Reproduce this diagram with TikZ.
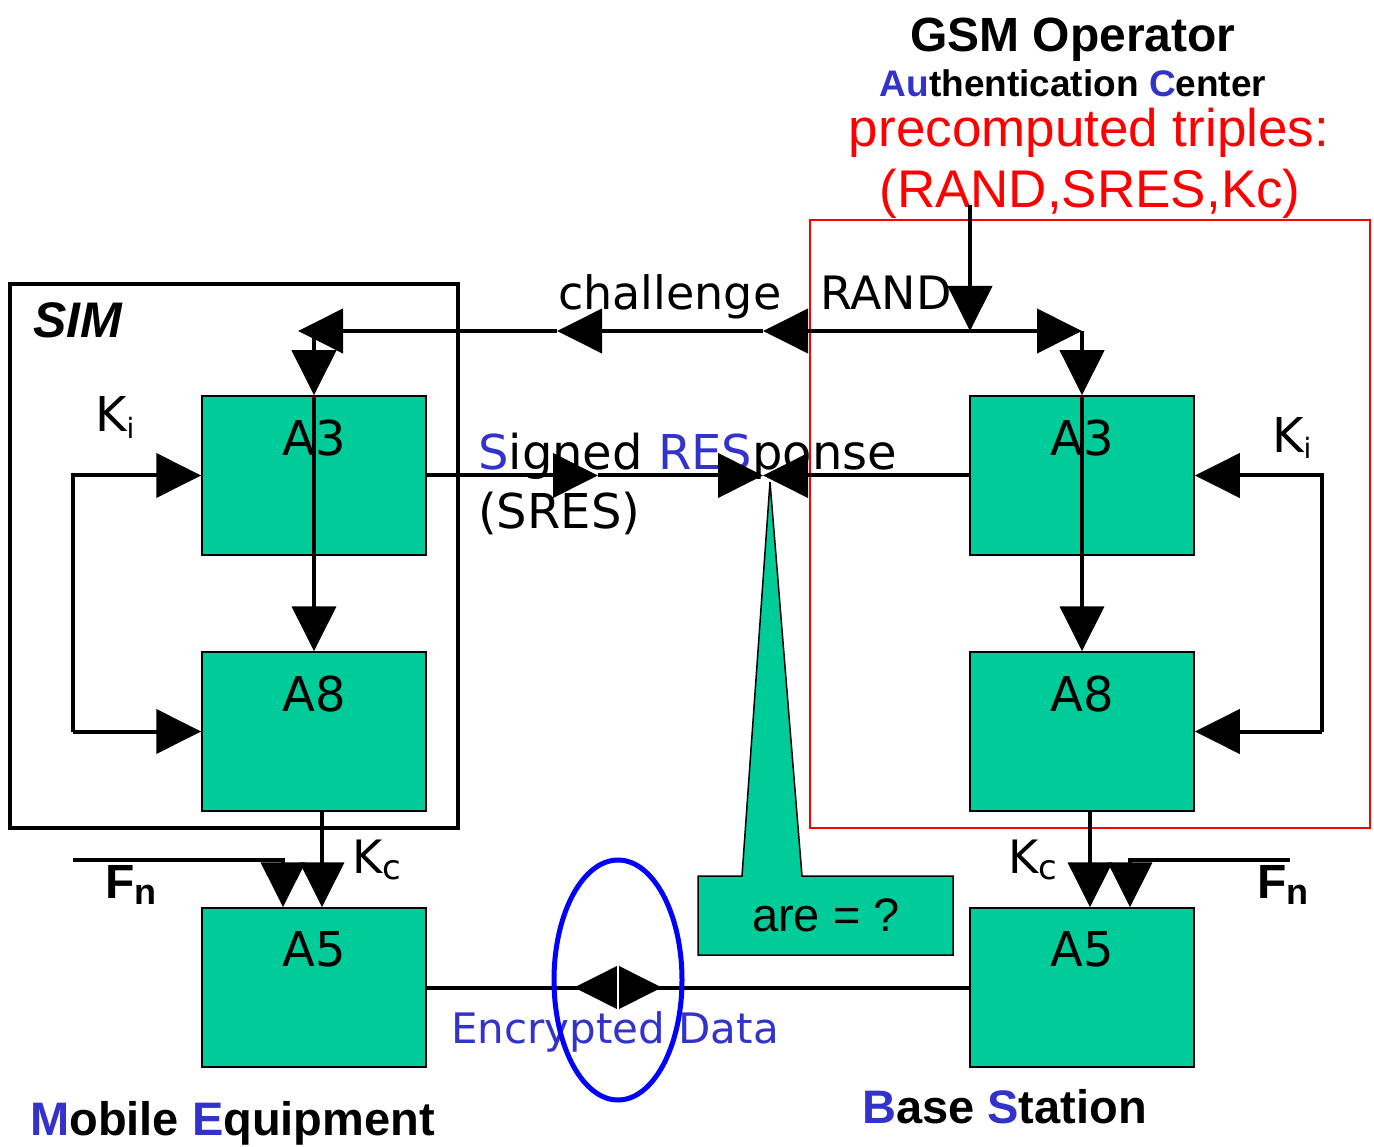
\documentclass[tikz,border=0pt]{standalone}
\usepackage{fontspec}
\setmainfont{DejaVu Sans}
\newfontfamily\arial{Liberation Sans}
\usetikzlibrary{arrows.meta,positioning}
\definecolor{algo}{HTML}{00CC99}
\definecolor{hilite}{HTML}{3333CC}
\newcommand{\fs}[1]{\fontsize{#1}{#1}\selectfont}
\newcommand{\dn}[2]{\raisebox{-6pt}{\fs{#1}#2}}

\begin{document}
\begin{tikzpicture}[x=1pt,y=-1pt,
    algbox/.style={draw,line width=1.5pt,fill=algo,minimum width=224pt,minimum height=159pt,inner sep=0pt},
    algtxt/.style={inner sep=0pt,font=\fs{48}},
    txt/.style={inner sep=0pt,anchor=base west},
    wire/.style={line width=4pt},
    arr/.style={wire,-{Triangle[length=45pt,width=44pt]}}]
    \useasboundingbox (0,0) rectangle (1374,1147);
    % SIM card and AuC frames
    \draw[line width=4pt] (10,284) rectangle (458,828);
    \draw[red,line width=1.5pt] (810,220) rectangle (1370,828);
    \foreach \n/\x/\y/\t in {lA3/314/475.5/A3,lA8/314/731.5/A8,lA5/314/987.5/A5,rA3/1082/475.5/A3,rA8/1082/731.5/A8,rA5/1082/987.5/A5} {
      \node[algbox] (\n) at (\x,\y) {};
      \node[algtxt,below=24pt of \n.north] (\n t) {\t};
    }
    \draw[fill=algo,line width=1.5pt] (698,876) -- (742,876) -- (770,482) -- (802,876) -- (953,876) -- (953,955) -- (698,955) -- cycle;
    \node[txt,anchor=base,font=\arial\fs{47}] (eq) at (826,931) {are = ?};
    % labels
    \node[txt,anchor=base,font=\arial\bfseries\fs{48}] (gsm) at (1073,52) {GSM Operator};
    \node[txt,anchor=base,font=\arial\bfseries\fs{37}] (auc) at (1073,97) {\textcolor{hilite}{Au}thentication \textcolor{hilite}{C}enter};
    \node[txt,anchor=base,red,font=\arial\fs{53}] (trip) at (1089,147) {precomputed triples:};
    \node[txt,anchor=base,red,font=\arial\fs{53}] (trip2) at (1090,208) {(RAND,SRES,Kc)};
    \node[txt,font=\fs{46}] (chal) at (558,310) {challenge};
    \node[txt,font=\fs{46}] (rand) at (820,310) {RAND};
    \node[txt,font=\arial\bfseries\itshape\fs{50}] (sim) at (33,338) {SIM};
    \node[txt,font=\fs{48}] (kil) at (95,432) {K\dn{28}{i}};
    \node[txt,font=\fs{48}] (kir) at (1272,453) {K\dn{28}{i}};
    \node[txt,font=\fs{48}] (sres) at (478,470) {\textcolor{hilite}{S}igned \textcolor{hilite}{RES}ponse};
    \node[txt,font=\fs{48}] (sres2) at (478,528) {(SRES)};
    \node[txt,font=\fs{46}] (kcl) at (352,873) {K\dn{34}{c}};
    \node[txt,font=\fs{46}] (kcr) at (1008,873) {K\dn{34}{c}};
    \node[txt,font=\arial\bfseries\fs{48}] (fnl) at (105,898) {F\dn{36}{n}};
    \node[txt,font=\arial\bfseries\fs{48}] (fnr) at (1257,898) {F\dn{36}{n}};
    \node[txt,anchor=base,text=hilite,font=\fs{42}] (enc) at (615,1043) {Encrypted Data};
    \node[txt,font=\arial\bfseries\fs{47}] (me) at (30,1135) {\textcolor{hilite}{M}obile \textcolor{hilite}{E}quipment};
    \node[txt,font=\arial\bfseries\fs{47}] (bs) at (862,1123) {\textcolor{hilite}{B}ase \textcolor{hilite}{S}tation};
    % challenge RAND
    \coordinate (src) at (970,205);
    \coordinate (j) at (970,331);
    \coordinate (tR) at (1082,331);
    \coordinate (c1) at (763,331);
    \coordinate (c2) at (557,331);
    \coordinate (c3) at (298,331);
    \coordinate (tL) at (314,331);
    \draw[arr] (src) -- (j);
    \draw[arr] (j) -- (tR);
    \draw[arr] (tR) -- (rA3.north);
    \draw[arr] (j) -- (c1);
    \draw[arr] (c1) -- (c2);
    \draw[arr] (c2) -- (c3);
    \draw[arr] (tL) -- (lA3.north);
    \draw[arr] (lA3.north) -- (lA8.north);
    \draw[arr] (rA3.north) -- (rA8.north);
    % response
    \coordinate (s1) at (598,475.5);
    \coordinate (meet) at (763,475.5);
    \draw[arr] (lA3.east) -- (s1);
    \draw[arr] (s1) -- (meet);
    \draw[arr] (rA3.west) -- (meet);
    % Ki
    \coordinate (kl1) at (73,475.5); \coordinate (kl2) at (73,731.5);
    \coordinate (kr1) at (1322,475.5); \coordinate (kr2) at (1322,731.5);
    \draw[arr] (kl2) -- (kl1) -- (lA3.west);
    \draw[arr] (kl2) -- (lA8.west);
    \draw[arr] (kr2) -- (kr1) -- (rA3.east);
    \draw[arr] (kr2) -- (rA8.east);
    % Kc and Fn
    \coordinate (kcl0) at (322,811); \coordinate (kcr0) at (1090,811);
    \coordinate (fnl0) at (73,860); \coordinate (fnl1) at (283,860);
    \coordinate (fnr0) at (1290,860); \coordinate (fnr1) at (1130,860);
    \draw[arr] (kcl0) -- (kcl0 |- lA5.north);
    \draw[arr] (kcr0) -- (kcr0 |- rA5.north);
    \draw[arr] (fnl0) -- (fnl1) -- (fnl1 |- lA5.north);
    \draw[arr] (fnr0) -- (fnr1) -- (fnr1 |- rA5.north);
    % encrypted link
    \coordinate (mid) at (618,987.5);
    \draw[wire] (lA5.east) -- (rA5.west);
    \draw[arr] ([xshift=-1pt]mid) -- ++(-43,0);
    \draw[arr] ([xshift=1pt]mid) -- ++(43,0);
    \draw[white,line width=2pt] (618,965) -- (618,1010);
    \draw[blue,line width=5pt] (618,980) ellipse [x radius=64,y radius=120];
\end{tikzpicture}
\end{document}
